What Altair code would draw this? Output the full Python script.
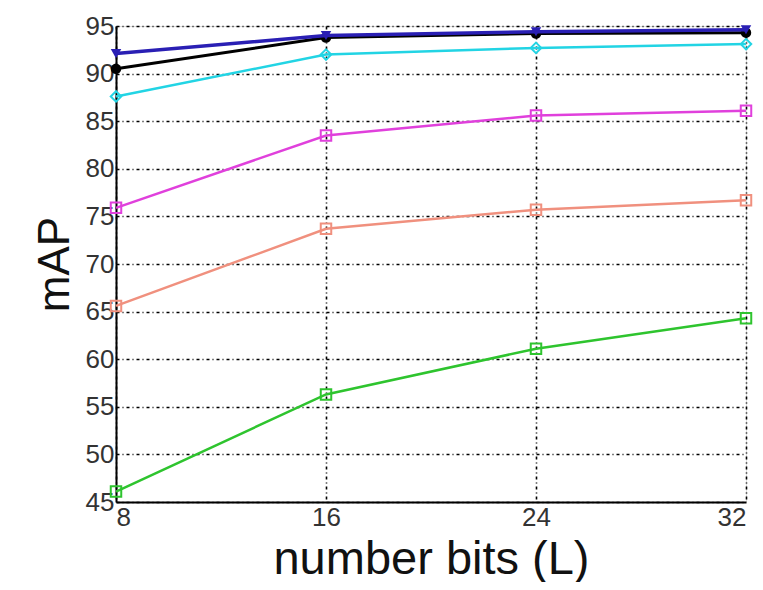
import altair as alt
import pandas as pd

bits = [8, 16, 24, 32]
series_names = ["green", "salmon", "magenta", "cyan", "black", "blue"]
green = [46.1, 56.3, 61.1, 64.3]
salmon = [65.6, 73.7, 75.7, 76.7]
magenta = [75.9, 83.5, 85.6, 86.1]
cyan = [87.6, 92.0, 92.7, 93.1]
black = [90.5, 93.8, 94.2, 94.3]
blue = [92.1, 94.0, 94.4, 94.6]
colors = ["#2ec42e", "#f0907e", "#e040dc", "#22d4e4", "#000000", "#2a1fb4"]
shapes = ["square", "square", "square", "diamond", "circle", "triangle-down"]
filled_flags = [False, False, False, False, True, True]
widths = [2.5, 2.5, 2.5, 2.5, 3, 3.5]

values = [green, salmon, magenta, cyan, black, blue]
rows = []
for i, (name, vals) in enumerate(zip(series_names, values)):
    for b, v in zip(bits, vals):
        rows.append({"series": name, "bits": b, "mAP": v, "order": i})
df = pd.DataFrame(rows)

FONT = "Liberation Sans"

x_enc = alt.X("bits:Q",
              scale=alt.Scale(domain=[8, 32], nice=False, zero=False),
              axis=alt.Axis(values=bits, title="number bits (L)",
                            titleFontSize=47, titleFontWeight="normal",
                            titleColor="#111", titlePadding=6,
                            labelFontSize=26, labelColor="#333", labelPadding=2,
                            ticks=False, domainColor="#000", domainWidth=2,
                            grid=True, gridColor="#000", gridDash=[3, 3, 1, 3],
                            gridWidth=1.6, gridOpacity=1,
                            labelFont=FONT, titleFont=FONT))
y_enc = alt.Y("mAP:Q",
              scale=alt.Scale(domain=[45, 95], nice=False, zero=False),
              axis=alt.Axis(values=list(range(45, 96, 5)), title="mAP",
                            titleFontSize=44, titleFontWeight="normal",
                            titleColor="#111", titlePadding=8,
                            labelFontSize=26, labelColor="#333", labelPadding=2,
                            ticks=False, domainColor="#000", domainWidth=2,
                            grid=True, gridColor="#000", gridDash=[3, 3, 1, 3],
                            gridWidth=1.6, gridOpacity=1,
                            labelFont=FONT, titleFont=FONT))

layers = []
for name, shp, fl, col, w in zip(series_names, shapes, filled_flags, colors, widths):
    sub = df[df.series == name]
    ln = alt.Chart(sub).mark_line(strokeWidth=w, color=col).encode(
        x=x_enc if not layers else alt.X("bits:Q"),
        y=y_enc if not layers else alt.Y("mAP:Q"),
    )
    pts = alt.Chart(sub).mark_point(shape=shp, filled=fl, size=110, strokeWidth=2, color=col, opacity=1).encode(
        x=alt.X("bits:Q"), y=alt.Y("mAP:Q")
    )
    layers.append(ln)
    layers.append(pts)

chart = alt.layer(*layers).properties(
    width=630, height=476, padding={"left": 108, "top": 18, "right": 9, "bottom": 80},
    autosize="none"
).configure_view(stroke=None).configure(background="white")

chart.save("out.html", embed_options={"renderer": "svg", "actions": False})
